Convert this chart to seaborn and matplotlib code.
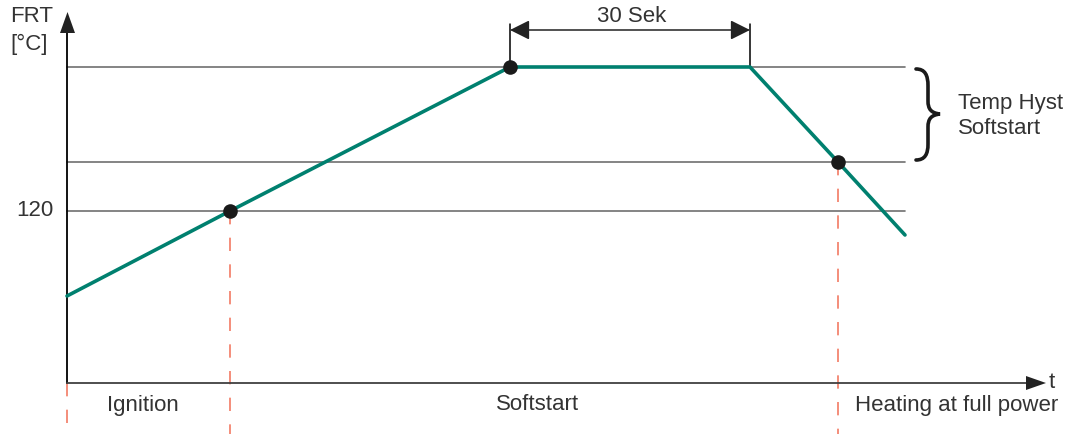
import matplotlib
matplotlib.use('Agg')
import matplotlib.pyplot as plt
from matplotlib.path import Path
from matplotlib.patches import PathPatch
import seaborn as sns
import pandas as pd

# curve of the flame-room temperature (drawing units: x to the right, y downward)
time_pts = [67, 230, 510, 750, 838, 905]
temp_pts = [296, 211, 67, 67, 162, 235]

# marked points on the curve
dot_x = [230, 510, 838]
dot_y = [211, 67, 162]

# horizontal reference levels
levels = [67, 162, 211]

# phase labels
phases = ['Ignition', 'Softstart', 'Heating at full power']
phase_x = [107, 538, 855]
phase_align = ['left', 'center', 'left']

green = '#00806f'
red = '#f27a64'
gray = '#707070'

sns.set_theme(style='white')
plt.rcParams['font.family'] = ['Liberation Sans', 'DejaVu Sans']

fig = plt.figure(figsize=(10.87, 4.34), dpi=100)
ax = fig.add_axes([0, 0, 1, 1])

# reference levels
for lv in levels:
    ax.plot([67, 905], [lv, lv], color=gray, lw=1.2, zorder=1)

# dashed phase borders
for xb, ytop in [(67, 383), (230, 211), (838, 162)]:
    ax.plot([xb, xb], [ytop, 434], color=red, lw=1.2, ls=(0, (8, 8)), zorder=1)

# axes with arrows
ax.plot([67, 67], [383, 28], color='black', lw=1.3, zorder=2)
ax.plot([67, 1030], [383, 383], color='#404040', lw=1.3, zorder=2)
ax.fill([60, 75, 67.5], [33, 33, 12], color='#222222', lw=0, zorder=3)
ax.fill([1026, 1026, 1046], [376, 390, 383], color='#222222', lw=0, zorder=3)

# curve
df = pd.DataFrame({'t': time_pts, 'frt': temp_pts})
sns.lineplot(data=df, x='t', y='frt', color=green, lw=2.6, sort=False, ax=ax, zorder=4)
ax.scatter(dot_x, dot_y, s=110, color='#1a1a1a', zorder=5, lw=0)
ax.set_xlim(0, 1087)
ax.set_ylim(434, 0)
ax.axis('off')

# 30 Sek dimension
for xd in [510, 750]:
    ax.plot([xd, xd], [67, 24], color='black', lw=1.1, zorder=2)
ax.annotate('', xy=(510, 30), xytext=(750, 30),
            arrowprops=dict(arrowstyle='<|-|>', color='#222222', lw=1.1,
                            mutation_scale=30, shrinkA=0, shrinkB=0))
ax.text(632, 16, '30 Sek', fontsize=16, color='#333333', ha='center', va='center')

# brace
verts = [(916, 69), (925, 69), (928, 75), (928, 86),
         (928, 101), (928, 109), (931, 113), (940, 114),
         (931, 115), (928, 119), (928, 127),
         (928, 144), (928, 154), (925, 160), (916, 160)]
codes = [Path.MOVETO, Path.CURVE4, Path.CURVE4, Path.CURVE4,
         Path.LINETO, Path.CURVE4, Path.CURVE4, Path.CURVE4,
         Path.CURVE4, Path.CURVE4, Path.CURVE4,
         Path.LINETO, Path.CURVE4, Path.CURVE4, Path.CURVE4]
ax.add_patch(PathPatch(Path(verts, codes), fill=False, edgecolor='#1a1a1a',
                       lw=2.6, capstyle='round', zorder=3))
ax.text(958, 104, 'Temp Hyst', fontsize=16, color='#333333', ha='left', va='center')
ax.text(958, 129, 'Softstart', fontsize=16, color='#333333', ha='left', va='center')

# axis labels
ax.text(10, 17, 'FRT', fontsize=16, color='#333333', ha='left', va='center')
ax.text(10, 44, '[°C]', fontsize=16, color='#333333', ha='left', va='center')
ax.text(53, 211, '120', fontsize=16, color='#333333', ha='right', va='center')
ax.text(1049, 382, 't', fontsize=16, color='#333333', ha='left', va='center')

for name, xp, al in zip(phases, phase_x, phase_align):
    ax.text(xp, 405, name, fontsize=16, color='#333333', ha=al, va='center')

fig.savefig('out.png', dpi=100)
